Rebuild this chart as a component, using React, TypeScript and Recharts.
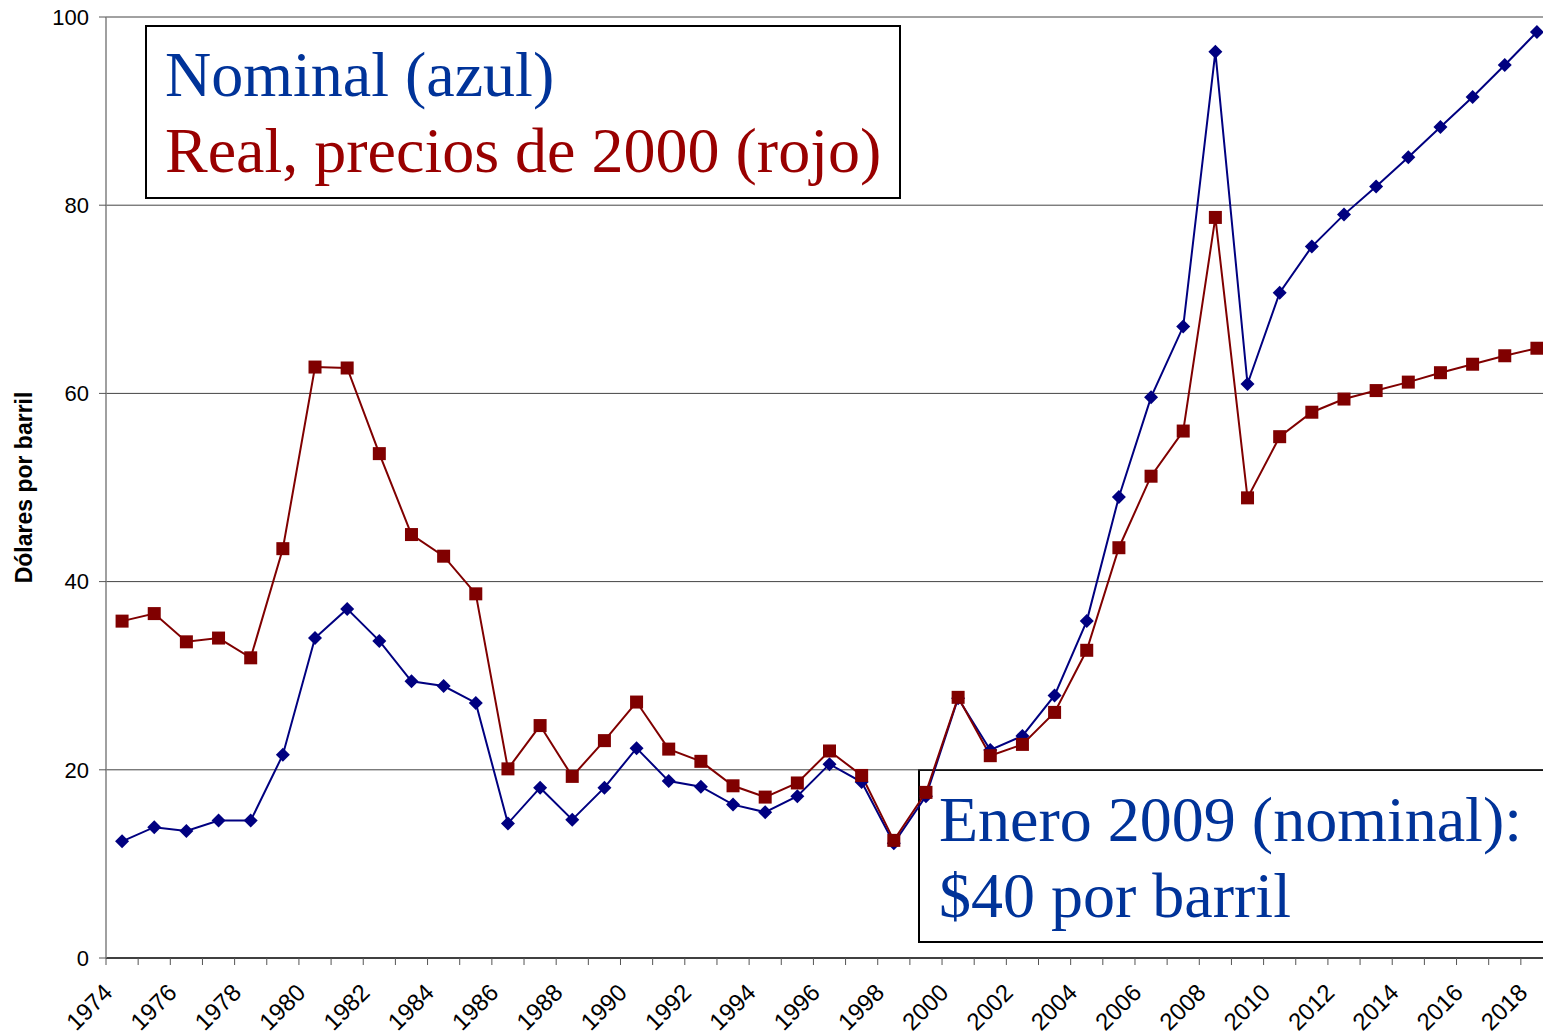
import React from "react";
import { CartesianGrid, Line, LineChart, XAxis, YAxis } from "recharts";

const years = [
  1974, 1975, 1976, 1977, 1978, 1979, 1980, 1981, 1982, 1983, 1984, 1985,
  1986, 1987, 1988, 1989, 1990, 1991, 1992, 1993, 1994, 1995, 1996, 1997,
  1998, 1999, 2000, 2001, 2002, 2003, 2004, 2005, 2006, 2007, 2008, 2009,
  2010, 2011, 2012, 2013, 2014, 2015, 2016, 2017, 2018,
];

// precio nominal (azul)
const nominal = [
  12.4, 13.9, 13.5, 14.6, 14.6, 21.6, 34.0, 37.1, 33.7, 29.4, 28.9, 27.1,
  14.3, 18.1, 14.7, 18.1, 22.3, 18.8, 18.2, 16.3, 15.5, 17.2, 20.6, 18.7,
  12.2, 17.2, 27.6, 22.1, 23.6, 27.9, 35.8, 49.0, 59.6, 67.1, 96.3, 61.0,
  70.7, 75.6, 79.0, 82.0, 85.1, 88.3, 91.5, 94.9, 98.4,
];

// precio real, dólares de 2000 (rojo)
const real = [
  35.8, 36.6, 33.6, 34.0, 31.9, 43.5, 62.8, 62.7, 53.6, 45.0, 42.7, 38.7,
  20.1, 24.7, 19.3, 23.1, 27.2, 22.2, 20.9, 18.3, 17.1, 18.6, 22.0, 19.4,
  12.5, 17.6, 27.7, 21.5, 22.7, 26.1, 32.7, 43.6, 51.2, 56.0, 78.7, 48.9,
  55.4, 58.0, 59.4, 60.3, 61.2, 62.2, 63.1, 64.0, 64.8,
];

const yTicks = [0, 20, 40, 60, 80, 100];

const data = years.map((year, i) => ({
  year,
  nominal: nominal[i],
  real: real[i],
}));

// tick marks sit between the years, like an Excel category axis
const boundaries = [...years.map((y) => y - 0.5), years[years.length - 1] + 0.5];

const SANS = '"Liberation Sans", Arial, sans-serif';
const SERIF = '"Liberation Serif", "Times New Roman", serif';

const Diamond = (props: any) => {
  const { cx, cy, index } = props;
  if (cx == null || cy == null) return <g key={index} />;
  const r = 7;
  return (
    <path
      key={index}
      d={`M${cx},${cy - r}L${cx + r},${cy}L${cx},${cy + r}L${cx - r},${cy}Z`}
      fill="#000080"
    />
  );
};

const Square = (props: any) => {
  const { cx, cy, index } = props;
  if (cx == null || cy == null) return <g key={index} />;
  const s = 13;
  return <rect key={index} x={cx - s / 2} y={cy - s / 2} width={s} height={s} fill="#800000" />;
};

const YearTick = (props: any) => {
  const { x, y, payload } = props;
  const year = payload.value + 0.5;
  if (year % 2 !== 0 || year > years[years.length - 1]) return <g />;
  const ax = x + 8;
  const ay = y + 27;
  return (
    <text
      x={ax}
      y={ay}
      textAnchor="end"
      transform={`rotate(-45 ${ax} ${ay})`}
      fontSize={24}
      fontFamily={SANS}
      fill="#000"
    >
      {year}
    </text>
  );
};

const YLabel = (props: any) => {
  const vb = props.viewBox || { x: 0, y: 17, height: 941 };
  const cx = vb.x + 24;
  const cy = vb.y + vb.height / 2;
  return (
    <text
      x={cx}
      y={cy}
      transform={`rotate(-90 ${cx} ${cy})`}
      textAnchor="middle"
      dominantBaseline="central"
      fontSize={23}
      fontWeight="bold"
      fontFamily={SANS}
      fill="#000"
    >
      Dólares por barril
    </text>
  );
};

const boxStyle: React.CSSProperties = {
  position: "absolute",
  border: "2px solid #000",
  background: "#fff",
  boxSizing: "border-box",
  fontFamily: SERIF,
  fontSize: 64,
  lineHeight: "76px",
  whiteSpace: "nowrap",
  zIndex: 0,
};

export default function App() {
  return (
    <div
      style={{
        position: "absolute",
        left: 0,
        top: 0,
        width: 1543,
        height: 1035,
        overflow: "hidden",
        background: "#fff",
      }}
    >
      <div style={{ ...boxStyle, left: 145, top: 25, width: 756, height: 174, padding: "10px 0 0 18px" }}>
        <div style={{ color: "#003399" }}>Nominal (azul)</div>
        <div style={{ color: "#990000" }}>Real, precios de 2000 (rojo)</div>
      </div>
      <div style={{ ...boxStyle, left: 918, top: 769, width: 700, height: 174, padding: "11px 0 0 19px", color: "#003399" }}>
        <div>Enero 2009 (nominal):</div>
        <div>$40 por barril</div>
      </div>
      <div style={{ position: "absolute", left: 0, top: 0, zIndex: 1 }}>
        <LineChart
          width={1560}
          height={1035}
          data={data}
          margin={{ top: 17, right: 7, left: 0, bottom: 17 }}
        >
          <CartesianGrid vertical={false} stroke="#444" strokeWidth={1} />
          <XAxis
            dataKey="year"
            type="number"
            domain={[boundaries[0], boundaries[boundaries.length - 1]]}
            ticks={boundaries}
            interval={0}
            height={60}
            tickSize={7}
            tickMargin={2}
            axisLine={{ stroke: "#404040", strokeWidth: 2 }}
            tickLine={{ stroke: "#555" }}
            tick={<YearTick />}
          />
          <YAxis
            domain={[0, 100]}
            ticks={yTicks}
            width={106}
            tickSize={7}
            tickMargin={10}
            axisLine={{ stroke: "#808080", strokeWidth: 1.5 }}
            tickLine={{ stroke: "#555" }}
            tick={{ fontSize: 22, fontFamily: SANS, fill: "#000" }}
            label={<YLabel />}
          />
          <Line
            type="linear"
            dataKey="nominal"
            stroke="#000080"
            strokeWidth={2}
            dot={Diamond}
            activeDot={false}
            isAnimationActive={false}
          />
          <Line
            type="linear"
            dataKey="real"
            stroke="#800000"
            strokeWidth={2}
            dot={Square}
            activeDot={false}
            isAnimationActive={false}
          />
        </LineChart>
      </div>
    </div>
  );
}
